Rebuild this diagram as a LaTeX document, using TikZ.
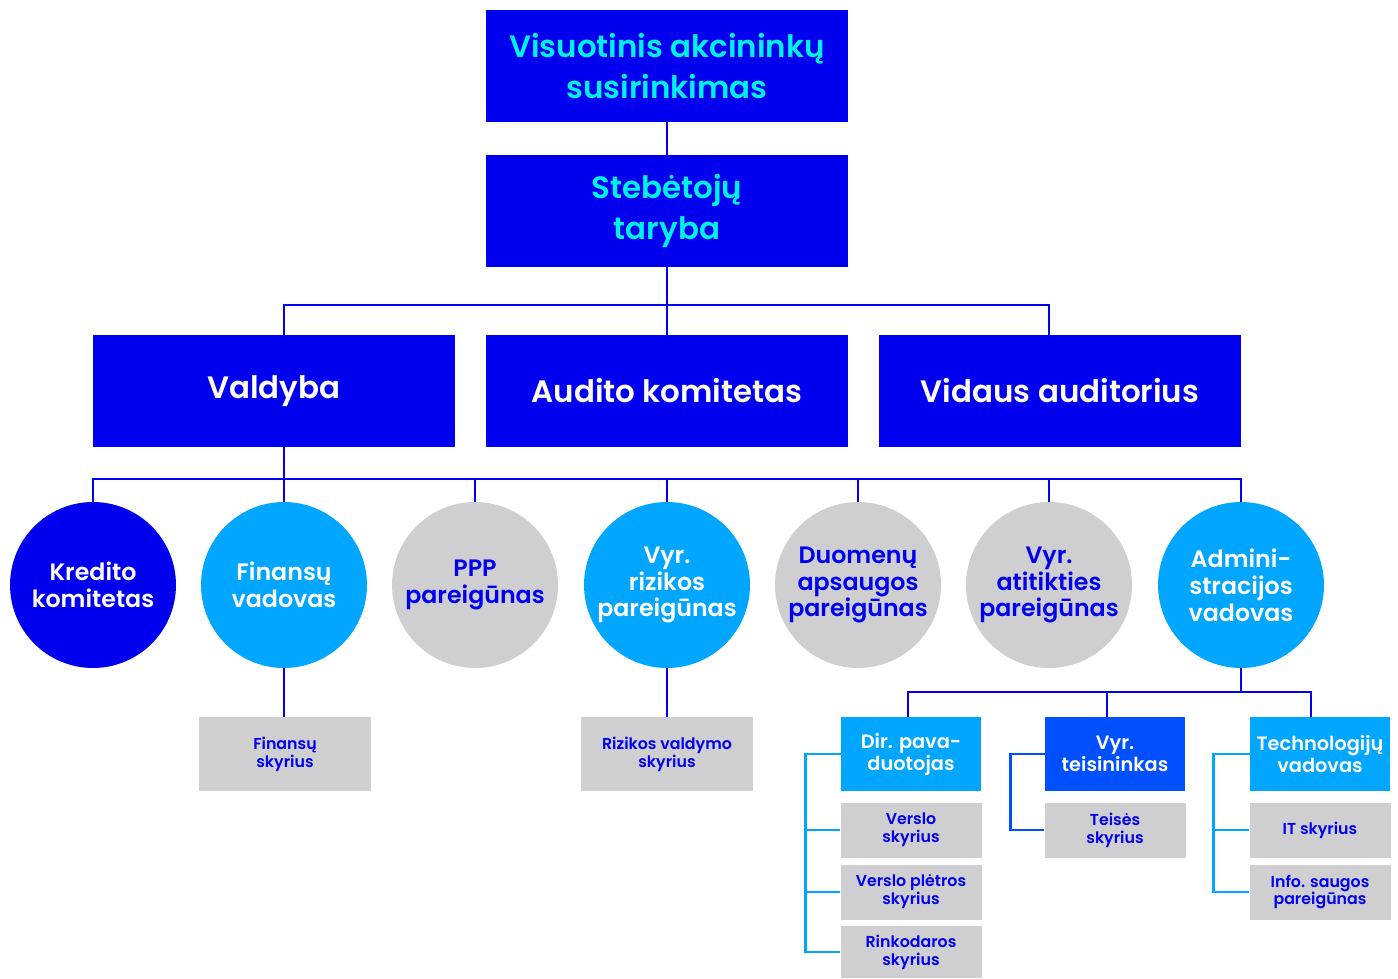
\documentclass[tikz,border=0pt]{standalone}
\usepackage{fontspec}
\setmainfont{Poppins}[BoldFont={Poppins SemiBold}]
\usetikzlibrary{positioning}
\definecolor{dblue}{HTML}{0000EE}
\definecolor{mblue}{HTML}{0050FF}
\definecolor{lblue}{HTML}{00A6FF}
\definecolor{cyantxt}{HTML}{00F0F0}
\definecolor{lgray}{HTML}{CFCFD2}
\begin{document}
\begin{tikzpicture}[x=0.02cm,y=-0.02cm,
	bigbox/.style={fill=dblue,minimum width=7.24cm,minimum height=2.24cm,align=center,font=\bfseries\fontsize{17.6}{23}\selectfont},
	ring/.style={circle,minimum size=3.32cm,inner sep=0pt,align=center,font=\bfseries\fontsize{13.5}{15.3}\selectfont},
	subbox/.style={minimum width=2.8cm,minimum height=1.48cm,align=center,text=white,font=\bfseries\fontsize{11}{12.5}\selectfont},
	graybox/.style={fill=lgray,minimum width=2.82cm,minimum height=1.1cm,align=center,text=dblue,font=\bfseries\fontsize{9}{10.2}\selectfont},
	bus/.style={draw=dblue,line width=1.5pt}]
		\useasboundingbox (0,0) rectangle (1398,978);
		% top levels
		\node[bigbox,text=cyantxt] (vas) at (667,66) {Visuotinis akcininkų\\susirinkimas};
		\node[bigbox,text=cyantxt] (steb) at (667,211) {Stebėtojų\\taryba};
		\node[bigbox,text=white] (val) at (274,391) {Valdyba};
		\node[bigbox,text=white] (aud) at (667,391) {Audito komitetas};
		\node[bigbox,text=white] (vid) at (1060,391) {Vidaus auditorius};
		% circles
		\node[ring,fill=dblue,text=white] (kred) at (93,585) {Kredito\\komitetas};
		\node[ring,fill=lblue,text=white] (fin) at (284,585) {Finansų\\vadovas};
		\node[ring,fill=lgray,text=dblue] (ppp) at (475,585) {PPP\\pareigūnas};
		\node[ring,fill=lblue,text=white] (riz) at (667,585) {Vyr.\\rizikos\\pareigūnas};
		\node[ring,fill=lgray,text=dblue] (duom) at (858,585) {Duomenų\\apsaugos\\pareigūnas};
		\node[ring,fill=lgray,text=dblue] (atit) at (1049,585) {Vyr.\\atitikties\\pareigūnas};
		\node[ring,fill=lblue,text=white] (adm) at (1241,585) {Admini-\\stracijos\\vadovas};
		% lower boxes
		\node[graybox,minimum width=3.44cm,minimum height=1.48cm] (finsk) at (285,754) {Finansų\\skyrius};
		\node[graybox,minimum width=3.44cm,minimum height=1.48cm] (rizsk) at (667,754) {Rizikos valdymo\\skyrius};
		\node[subbox,fill=lblue] (dir) at (911,754) {Dir. pava-\\duotojas};
		\node[subbox,fill=mblue] (teis) at (1115,754) {Vyr.\\teisininkas};
		\node[subbox,fill=lblue] (tech) at (1320,754) {Technologijų\\vadovas};
		\node[graybox] (versl) at (911,830) {Verslo\\skyrius};
		\node[graybox] (plet) at (911,892) {Verslo plėtros\\skyrius};
		\node[graybox,minimum height=1.04cm] (rink) at (911,952) {Rinkodaros\\skyrius};
		\node[graybox] (teissk) at (1115,830) {Teisės\\skyrius};
		\node[graybox] (it) at (1320,830) {IT skyrius};
		\node[graybox] (info) at (1320,892) {Info. saugos\\pareigūnas};
		% connectors
		\coordinate (j1) at (667,305);
		\coordinate (j2) at (0,479);
		\coordinate (j3) at (0,692);
		\draw[bus] (vas) -- (steb);
		\draw[bus] (steb) -- (aud);
		\draw[bus] (val.north -| fin) |- (j1) -| (vid.north -| atit);
		\draw[bus] (val.south -| fin) -- (fin);
		\draw[bus] (kred.north) |- (j2 -| adm) -- (adm.north);
		\foreach \n in {ppp,riz,duom,atit} \draw[bus] (\n.north) -- (\n.north |- j2);
		\draw[bus] (fin) -- (fin |- finsk.north);
		\draw[bus] (riz) -- (rizsk);
		\draw[bus] (adm) -- (adm |- j3);
		\draw[bus] (dir.north -| 908,0) |- (j3 -| 1311,0) -- (tech.north -| 1311,0);
		\draw[bus] (teis.north -| 1107,0) -- (j3 -| 1107,0);
		\draw[draw=lblue,line width=1.5pt] (dir.west) -| ++(-35,0) |- (rink.west);
		\foreach \n in {versl,plet} \draw[draw=lblue,line width=1.5pt] (\n.west) -- (\n.west -| 806,0);
		\draw[draw=mblue,line width=1.5pt] (teis.west) -| ++(-34,0) |- (teissk.west);
		\draw[draw=lblue,line width=1.5pt] (tech.west) -| ++(-36,0) |- (info.west);
		\draw[draw=lblue,line width=1.5pt] (it.west) -- (it.west -| 1214,0);
	    \end{tikzpicture}
\end{document}
